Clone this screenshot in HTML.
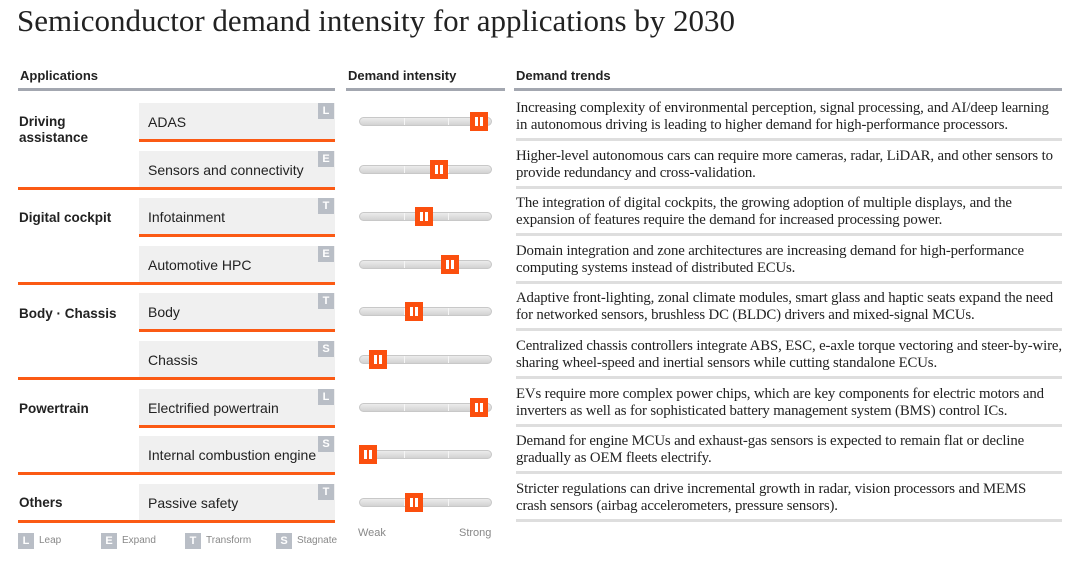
<!DOCTYPE html>
<html><head><meta charset="utf-8"><style>
body{margin:0;width:1080px;height:562px;background:#fff;position:relative;overflow:hidden;font-family:"Liberation Sans",sans-serif}
.a{position:absolute}
.title{left:17px;top:3px;font:31px "Liberation Serif",serif;color:#222;white-space:nowrap}
.hdr{font-weight:bold;font-size:13px;color:#222;top:68px}
.hl{height:3px;background:#a3a7b0;top:88px}
.box{left:139px;width:196px;background:#f0f0f0;font-size:14px;color:#222;box-sizing:border-box;padding-left:9px}
.badge{width:16px;height:16px;background:#b9bec6;color:#fff;font-size:11px;font-weight:bold;text-align:center;line-height:16px}
.ol{height:3px;background:#fb5a14}
.grp{left:19px;font-weight:bold;font-size:13.5px;color:#222;line-height:16px}
.track{left:359px;width:133px;height:9px;border-radius:5px;background:linear-gradient(#ececec,#d2d2d2);border:1px solid #c8c8c8;box-sizing:border-box}
.tick{width:1px;height:7px;background:#f6f6f6}
.mk{width:18px;height:19px;background:#fb4f0e}
.mk:before,.mk:after{content:"";position:absolute;top:5px;width:3px;height:9px;background:#fff}
.mk:before{left:5px}.mk:after{left:10px}
.tr{left:516px;font:14.8px/17px "Liberation Serif",serif;letter-spacing:-0.13px;color:#222;white-space:nowrap}
.sep{left:516px;width:546px;height:3px;background:#dedede}
.lg{font-size:10px;color:#888}
</style></head><body>
<div class="a title">Semiconductor demand intensity for applications by 2030</div>
<div class="a hdr" style="left:20px">Applications</div>
<div class="a hdr" style="left:348px">Demand intensity</div>
<div class="a hdr" style="left:516px">Demand trends</div>
<div class="a hl" style="left:18px;width:317px"></div>
<div class="a hl" style="left:346px;width:159px"></div>
<div class="a hl" style="left:514px;width:548px"></div>
<div id="rows"></div>
<div class="a grp" style="top:114px">Driving<br>assistance</div>
<div class="a grp" style="top:210px">Digital cockpit</div>
<div class="a grp" style="top:306px">Body · Chassis</div>
<div class="a grp" style="top:401px">Powertrain</div>
<div class="a grp" style="top:495px">Others</div>
<div class="a lg" style="left:358px;top:527px;font-size:11px">Weak</div>
<div class="a lg" style="left:459px;top:527px;font-size:11px">Strong</div>
<div id="legend"></div>
<script>
const apps=["ADAS","Sensors and connectivity","Infotainment","Automotive HPC","Body","Chassis","Electrified powertrain","Internal combustion engine","Passive safety"];
const types=["L","E","T","E","T","S","L","S","T"];
const intensity=[1.0,0.64,0.5,0.74,0.41,0.09,1.0,0.0,0.41];
const groupEnd=[false,true,false,true,false,true,false,true,true];
const trends=[
["Increasing complexity of environmental perception, signal processing, and AI/deep learning","in autonomous driving is leading to higher demand for high-performance processors."],
["Higher-level autonomous cars can require more cameras, radar, LiDAR, and other sensors to","provide redundancy and cross-validation."],
["The integration of digital cockpits, the growing adoption of multiple displays, and the","expansion of features require the demand for increased processing power."],
["Domain integration and zone architectures are increasing demand for high-performance","computing systems instead of distributed ECUs."],
["Adaptive front-lighting, zonal climate modules, smart glass and haptic seats expand the need","for networked sensors, brushless DC (BLDC) drivers and mixed-signal MCUs."],
["Centralized chassis controllers integrate ABS, ESC, e-axle torque vectoring and steer-by-wire,","sharing wheel-speed and inertial sensors while cutting standalone ECUs."],
["EVs require more complex power chips, which are key components for electric motors and","inverters as well as for sophisticated battery management system (BMS) control ICs."],
["Demand for engine MCUs and exhaust-gas sensors is expected to remain flat or decline","gradually as OEM fleets electrify."],
["Stricter regulations can drive incremental growth in radar, vision processors and MEMS","crash sensors (airbag accelerometers, pressure sensors)."]];
const legendKeys=["L","E","T","S"];
const legendNames=["Leap","Expand","Transform","Stagnate"];
const xScale=v=>368+v*111;
const rowTop=i=>103+i*47.6;
const R=document.getElementById('rows');
function mk(cls,st,txt){const d=document.createElement('div');d.className='a '+cls;d.setAttribute('style',st);if(txt!=null)d.innerHTML=txt;R.appendChild(d);return d;}
apps.forEach((a,i)=>{
 const t=rowTop(i);
 let e=mk('box',`top:${t}px;height:36px;line-height:38px`,a);
 
 
 e=mk('badge',`left:318px;top:${t}px`,types[i]);
 
 
 e=mk('ol',groupEnd[i]?`left:18px;width:317px;top:${t+36}px`:`left:139px;width:196px;top:${t+36}px`);
 
 
 const cy=t+18.5;
 e=mk('track',`top:${cy-4.5}px`);
 
 
 [404,448].forEach(x=>{const k=mk('tick',`left:${x}px;top:${cy-3.5}px`);
 
 });
 e=mk('mk',`left:${xScale(intensity[i])-9}px;top:${cy-9.5}px`);
 
 
 e=mk('tr',`top:${t-3}px`,trends[i].join('<br>'));
 
 
 e=mk('sep',`top:${t+35}px`);
 
 
});
const lx=[18,101,185,276];
legendKeys.forEach((k,i)=>{
 let e=mk('badge',`left:${lx[i]}px;top:533px`,k);
 
 
 e=mk('lg',`left:${lx[i]+21}px;top:535px`,legendNames[i]);
 
 
});
</script>
</body></html>
